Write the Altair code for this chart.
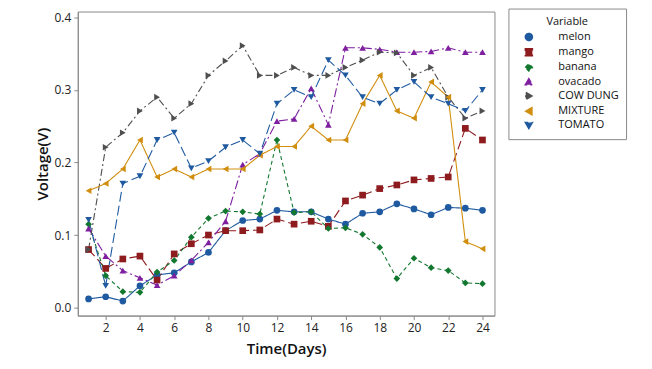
import altair as alt
import pandas as pd

days = list(range(1, 25))
series_names = ["melon", "mango", "banana", "ovacado", "COW DUNG", "MIXTURE", "TOMATO"]

melon = [0.012, 0.015, 0.009, 0.030, 0.045, 0.048, 0.063, 0.076, 0.106, 0.120, 0.122, 0.134,
         0.132, 0.132, 0.122, 0.115, 0.130, 0.132, 0.143, 0.136, 0.128, 0.138, 0.137, 0.134]
mango = [0.080, 0.054, 0.067, 0.071, 0.038, 0.074, 0.088, 0.100, 0.106, 0.106, 0.107, 0.122,
         0.115, 0.119, 0.112, 0.147, 0.155, 0.164, 0.169, 0.176, 0.178, 0.180, 0.247, 0.231]
banana = [0.115, 0.044, 0.022, 0.021, 0.049, 0.065, 0.097, 0.123, 0.133, 0.132, 0.129, 0.231,
          0.131, 0.132, 0.109, 0.110, 0.101, 0.083, 0.040, 0.068, 0.055, 0.051, 0.034, 0.033]
ovacado = [0.109, 0.071, 0.051, 0.041, 0.031, 0.044, 0.065, 0.090, 0.119, 0.197, 0.212, 0.257,
           0.260, 0.302, 0.252, 0.358, 0.358, 0.356, 0.352, 0.352, 0.353, 0.358, 0.352, 0.352]
cow_dung = [0.080, 0.221, 0.241, 0.271, 0.290, 0.261, 0.281, 0.320, 0.340, 0.361, 0.320, 0.320,
            0.331, 0.320, 0.320, 0.331, 0.341, 0.352, 0.351, 0.320, 0.331, 0.290, 0.261, 0.271]
mixture = [0.161, 0.171, 0.191, 0.231, 0.180, 0.191, 0.180, 0.191, 0.191, 0.191, 0.210, 0.222,
           0.222, 0.250, 0.231, 0.231, 0.281, 0.320, 0.271, 0.261, 0.311, 0.290, 0.091, 0.081]
tomato = [0.121, 0.030, 0.171, 0.181, 0.231, 0.241, 0.192, 0.202, 0.221, 0.231, 0.212, 0.281,
          0.300, 0.290, 0.341, 0.320, 0.290, 0.281, 0.300, 0.311, 0.290, 0.281, 0.271, 0.300]

values = [melon, mango, banana, ovacado, cow_dung, mixture, tomato]

colors = ["#1F5AA0", "#8E1B1E", "#13782F", "#7E1FA0", "#4F4F4F", "#D18E0E", "#1F5AA0"]
shapes = ["circle", "square", "diamond", "triangle-up", "triangle-right", "triangle-left", "triangle-down"]
dashes = [[1, 0], [9, 4], [4, 3], [9, 3, 2, 3], [7, 3, 2, 3], [1, 0], [10, 4]]

rows = []
for name, vals in zip(series_names, values):
    for d, v in zip(days, vals):
        rows.append({"Day": d, "Voltage": v, "Variable": name})
df = pd.DataFrame(rows)

FONT = "Open Sans"

x_enc = alt.X("Day:Q", scale=alt.Scale(domain=[0.37, 24.7], nice=False, zero=False),
              axis=alt.Axis(values=list(range(2, 25, 2)), title="Time(Days)", grid=False,
                            tickSize=4, labelPadding=3, titlePadding=8))
y_enc = alt.Y("Voltage:Q", scale=alt.Scale(domain=[-0.011, 0.408], nice=False, zero=False),
              axis=alt.Axis(values=[0.0, 0.1, 0.2, 0.3, 0.4], format=".1f", title="Voltage(V)",
                            grid=False, tickSize=4, labelPadding=3, titlePadding=4))

color_scale = alt.Scale(domain=series_names, range=colors)
shape_scale = alt.Scale(domain=series_names, range=shapes)

leg = alt.Legend(title="Variable", orient="none", legendX=432, legendY=-3,
                 titleAnchor="middle", titleFontSize=11, titleFontWeight="normal",
                 labelFontSize=11, symbolSize=50, symbolOffset=8, labelOffset=24,
                 strokeColor="#8a8a8a", padding=7, rowPadding=0.3, fillColor="white",
                 labelExpr="datum.label + '    '")

lines = alt.Chart(df).mark_line(strokeWidth=1.1).encode(
    x=x_enc, y=y_enc,
    color=alt.Color("Variable:N", scale=color_scale, legend=leg),
    strokeDash=alt.StrokeDash("Variable:N", scale=alt.Scale(domain=series_names, range=dashes), legend=None),
    detail="Variable:N",
)

points = alt.Chart(df).mark_point(filled=True, size=45, opacity=1).encode(
    x=x_enc, y=y_enc,
    color=alt.Color("Variable:N", scale=color_scale, legend=leg),
    shape=alt.Shape("Variable:N", scale=shape_scale, legend=leg),
)

chart = alt.layer(lines, points).properties(
    width=418, height=305,
    autosize=alt.AutoSizeParams(type="none"),
    padding={"left": 70, "top": 3, "right": 150, "bottom": 45},
).configure_view(
    stroke="#8a8a8a", strokeWidth=1
).configure_axis(
    domainColor="#8a8a8a", tickColor="#8a8a8a", labelColor="#222222", titleColor="#111111",
    labelFont=FONT, titleFont=FONT, labelFontSize=12, titleFontSize=15, titleFontWeight=600,
).configure_legend(
    labelFont=FONT, titleFont=FONT, labelColor="#111111", titleColor="#111111"
)

chart.save("out.html", embed_options={"renderer": "svg", "actions": False})
